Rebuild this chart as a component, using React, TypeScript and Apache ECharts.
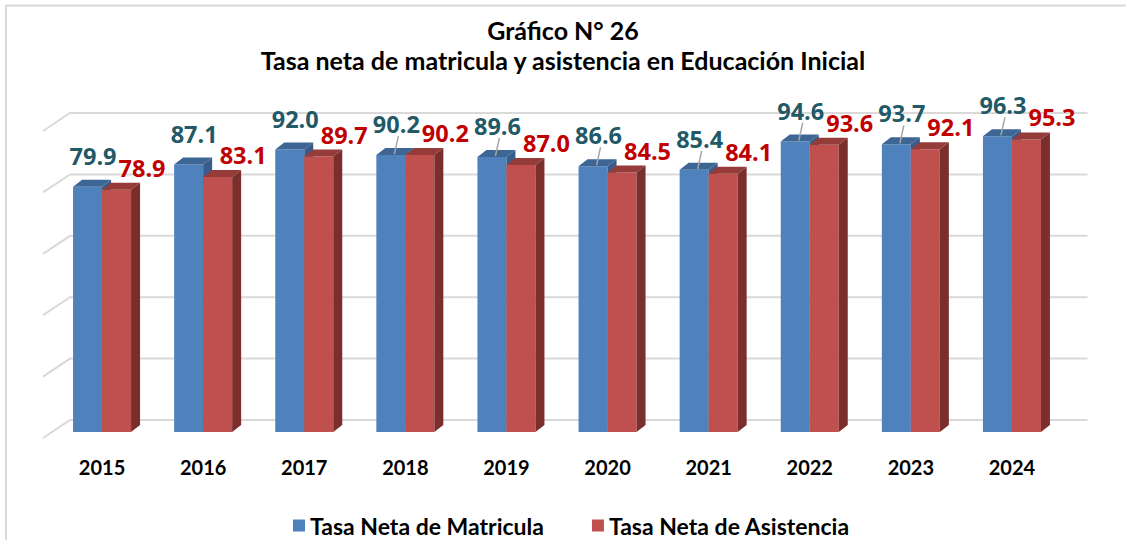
import React, { useEffect, useRef } from "react";
import * as echarts from "echarts";

const years = ["2015", "2016", "2017", "2018", "2019", "2020", "2021", "2022", "2023", "2024"];
const matricula = [79.9, 87.1, 92.0, 90.2, 89.6, 86.6, 85.4, 94.6, 93.7, 96.3];
const asistencia = [78.9, 83.1, 89.7, 90.2, 87.0, 84.5, 84.1, 93.6, 92.1, 95.3];
const yTicks = [0, 20, 40, 60, 80, 100];
const seriesNames = ["Tasa Neta de Matricula", "Tasa Neta de Asistencia"];
const titleLines = ["Gráfico N° 26", "Tasa neta de matricula y asistencia en Educación Inicial"];

const FONT = "Lato";
const LABEL_FONT = "Open Sans";
const BAR_W = 29;
const DX = 9;
const DY = -7;

type BarCfg = {
  name: string;
  values: number[];
  front: string;
  top: string;
  side: string;
  labelColor: string;
  side0: "left" | "right";
  labelDx: number;
  labelDy: number;
  leader: boolean;
};

function makeBarSeries(cfg: BarCfg) {
  return {
    type: "custom",
    name: cfg.name,
    z: 3,
    itemStyle: { color: cfg.front },
    data: cfg.values.map((v, i) => [i, v]),
    renderItem: (params: any, api: any) => {
      const i = api.value(0);
      const v = api.value(1);
      const base = api.coord([i, 0]);
      const topP = api.coord([i, v]);
      const cx = base[0];
      const y0 = base[1];
      const yt = topP[1];
      const x0 = cfg.side0 === "left" ? cx - BAR_W : cx;
      const x1 = x0 + BAR_W;
      const children: any[] = [
        {
          type: "rect",
          shape: { x: x0, y: yt, width: BAR_W, height: y0 - yt },
          style: { fill: cfg.front },
        },
        {
          type: "polygon",
          shape: { points: [[x0, yt], [x0 + DX, yt + DY], [x1 + DX, yt + DY], [x1, yt]] },
          style: { fill: cfg.top },
        },
        {
          type: "polygon",
          shape: { points: [[x1, yt], [x1 + DX, yt + DY], [x1 + DX, y0 + DY], [x1, y0]] },
          style: { fill: cfg.side },
        },
      ];
      const lx = cx + cfg.labelDx;
      const ly = yt + cfg.labelDy;
      if (cfg.leader && i >= 3) {
        children.push({
          type: "line",
          shape: { x1: cx - 11, y1: yt - 1, x2: cx - 7, y2: ly + 12 },
          style: { stroke: "#a6a6a6", lineWidth: 1.5 },
        });
      }
      children.push({
        type: "text",
        x: lx,
        y: ly,
        style: {
          text: v.toFixed(1),
          fill: cfg.labelColor,
          fontFamily: LABEL_FONT,
          fontWeight: "bold",
          fontSize: 23.5,
          align: "center",
          verticalAlign: "middle",
        },
      });
      return { type: "group", children };
    },
  };
}

export default function App() {
  const ref = useRef<HTMLDivElement>(null);

  useEffect(() => {
    if (!ref.current) return;
    const chart = echarts.init(ref.current, null, { renderer: "svg" });

    const gridSeries = {
      type: "custom",
      name: "grid",
      z: 1,
      silent: true,
      data: yTicks.map((t) => [0, t]),
      renderItem: (params: any, api: any) => {
        const cs = params.coordSys;
        const y = api.coord([0, api.value(1)])[1];
        const xFront = cs.x - 8.5;
        const xBack = cs.x + 18.5;
        const xEnd = cs.x + cs.width + 25;
        return {
          type: "group",
          children: [
            {
              type: "polyline",
              shape: { points: [[xFront, y + 6], [xBack, y - 12], [xEnd, y - 12]] },
              style: { stroke: "#d9d9d9", lineWidth: 2, fill: "none" },
            },
          ],
        };
      },
    };

    chart.setOption({
      animation: false,
      backgroundColor: "#ffffff",
      title: {
        text: titleLines.join("\n"),
        left: "center",
        top: 10,
        textStyle: {
          fontFamily: FONT,
          fontWeight: "bold",
          fontSize: 25,
          lineHeight: 30,
          color: "#000000",
        },
      },
      graphic: [
        {
          type: "rect",
          shape: { x: 6, y: 5.5, width: 1200, height: 600 },
          style: { fill: "none", stroke: "#d9d9d9", lineWidth: 2 },
          silent: true,
          z: 0,
        },
      ],
      legend: {
        data: seriesNames,
        left: 288,
        top: 509,
        itemWidth: 12,
        itemHeight: 12,
        itemGap: 48,
        icon: "rect",
        textStyle: {
          fontFamily: FONT,
          fontWeight: "bold",
          fontSize: 23,
          color: "#000000",
        },
      },
      grid: { left: 51.5, width: 1011, top: 125, bottom: 108 },
      xAxis: {
        type: "category",
        data: years,
        axisLine: { show: false },
        axisTick: { show: false },
        splitLine: { show: false },
        axisLabel: {
          margin: 25,
          fontFamily: FONT,
          fontWeight: "bold",
          fontSize: 20,
          color: "#000000",
        },
      },
      yAxis: {
        type: "value",
        min: 0,
        max: 100,
        interval: 20,
        show: false,
      },
      series: [
        gridSeries,
        makeBarSeries({
          name: seriesNames[0],
          values: matricula,
          front: "#4F81BD",
          top: "#3D6695",
          side: "#385D8A",
          labelColor: "#215967",
          side0: "left",
          labelDx: -9,
          labelDy: -31,
          leader: true,
        }),
        makeBarSeries({
          name: seriesNames[1],
          values: asistencia,
          front: "#C0504D",
          top: "#953C3A",
          side: "#7A2F2D",
          labelColor: "#C00000",
          side0: "right",
          labelDx: 40,
          labelDy: -22,
          leader: false,
        }),
      ],
    });

    return () => chart.dispose();
  }, []);

  return (
    <div
      ref={ref}
      style={{ position: "absolute", left: 0, top: 0, width: 1126, height: 540 }}
    />
  );
}
